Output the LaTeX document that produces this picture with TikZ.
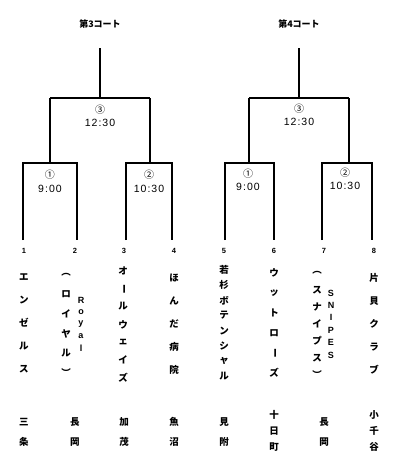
\documentclass[tikz,border=0pt]{standalone}
\usepackage{fontspec}
\setmainfont{Liberation Sans}
\newfontfamily\jp{Noto Sans CJK JP}
\newfontfamily\tm{Liberation Sans}[LetterSpace=10]
\newcommand\vchoon{\rotatebox[origin=c]{-90}{ー}}
\newcommand\vcol[5]{% name, x, y0, step, list
  \foreach \c [count=\i from 0] in {#5}
    \node[jpc] (#1-\i) at (#2,{#3+\i*#4}) {\c};}
\newcommand\lcol[5]{% name, x, y0, step, list (latin upright)
  \foreach \c [count=\i from 0] in {#5}
    \node[latc] (#1-\i) at (#2,{#3+\i*#4}) {\c};}
\tikzset{
  jpc/.style={inner sep=0pt, font=\jp\bfseries\fontsize{9.5}{10}\selectfont},
  latc/.style={inner sep=0pt, font=\bfseries\fontsize{9}{10}\selectfont},
  ttl/.style={inner sep=0pt, font=\jp\bfseries\fontsize{9}{10}\selectfont},
  circ/.style={inner sep=0pt, font=\jp\fontsize{10}{10}\selectfont},
  tim/.style={inner sep=0pt, font=\tm\fontsize{10.5}{10}\selectfont},
  num/.style={inner sep=0pt, font=\bfseries\fontsize{7.5}{8}\selectfont},
  upper/.style={line width=1.5pt},
  lower/.style={line width=1.1pt},
}
\begin{document}
\begin{tikzpicture}[x=1pt,y=-1pt]
\useasboundingbox (0,0) rectangle (400,475);
% ---------- titles
\node[ttl] (t3) at (100,24) {第3コート};
\node[ttl] (t4) at (299,24) {第4コート};
% ---------- left court
\coordinate (L0) at (100,48);
\coordinate (Lj) at (100,98);
\coordinate (Lja) at (50,98);
\coordinate (Ljb) at (150,98);
\coordinate (La) at (50,163);
\coordinate (Lb) at (150,163);
\draw[upper] (L0) -- (Lj);
\draw[upper] (Lja) -- (Ljb);
\draw[upper] (Lja) -- (La);
\draw[upper] (Ljb) -- (Lb);
\coordinate (p1) at (23,240); \coordinate (p2) at (77,240);
\coordinate (p3) at (126,240); \coordinate (p4) at (172,240);
\draw[lower] (p1) -- (23,163) -- (77,163) -- (p2);
\draw[lower] (p3) -- (126,163) -- (172,163) -- (p4);
\node[circ] (Lc3) at (100,110) {③};
\node[tim] (Lt3) at (100,123) {12:30};
\node[circ] (Lc1) at (50,175) {①};
\node[tim] (Lt1) at (50,189) {9:00};
\node[circ] (Lc2) at (149,175) {②};
\node[tim] (Lt2) at (149,189) {10:30};
% ---------- right court
\coordinate (R0) at (299,48);
\coordinate (Rj) at (299,98);
\coordinate (Rja) at (249,98);
\coordinate (Rjb) at (349,98);
\coordinate (Ra) at (249,163);
\coordinate (Rb) at (349,163);
\draw[upper] (R0) -- (Rj);
\draw[upper] (Rja) -- (Rjb);
\draw[upper] (Rja) -- (Ra);
\draw[upper] (Rjb) -- (Rb);
\coordinate (p5) at (225,240); \coordinate (p6) at (274,240);
\coordinate (p7) at (322,240); \coordinate (p8) at (372,240);
\draw[lower] (p5) -- (225,163) -- (274,163) -- (p6);
\draw[lower] (p7) -- (322,163) -- (372,163) -- (p8);
\node[circ] (Rc3) at (299,109) {③};
\node[tim] (Rt3) at (299,122) {12:30};
\node[circ] (Rc1) at (248,174) {①};
\node[tim] (Rt1) at (248,187) {9:00};
\node[circ] (Rc2) at (345,173) {②};
\node[tim] (Rt2) at (345,186) {10:30};
% ---------- numbers
\node[num] (n1) at (24,251) {1};
\node[num] (n2) at (75,251) {2};
\node[num] (n3) at (124,251) {3};
\node[num] (n4) at (174,251) {4};
\node[num] (n5) at (224,251) {5};
\node[num] (n6) at (274,251) {6};
\node[num] (n7) at (324,251) {7};
\node[num] (n8) at (374,251) {8};
% ---------- team names
\vcol{a}{24}{277}{23}{エ,ン,ゼ,ル,ス}
\vcol{b}{66}{275}{19.6}{︵,ロ,イ,ヤ,ル,︶}
\lcol{bb}{81}{300}{12}{R,o,y,a,l}
\vcol{c}{123}{271}{17.8}{オ,\vchoon,ル,ウ,ェ,イ,ズ}
\vcol{d}{174}{278}{23}{ほ,ん,だ,病,院}
\vcol{e}{224}{270}{15.2}{若,杉,ボ,テ,ン,シ,ャ,ル}
\vcol{f}{274}{273}{20}{ウ,ッ,ト,ロ,\vchoon,ズ}
\vcol{g}{317}{273}{17}{︵,ス,ナ,イ,プ,ス,︶}
\lcol{gg}{331}{293}{12.4}{S,N,I,P,E,S}
\vcol{h}{374}{278}{23}{片,貝,ク,ラ,ブ}
% ---------- places
\vcol{pa}{24}{422}{20}{三,条}
\vcol{pb}{75}{422}{20}{長,岡}
\vcol{pc}{124}{422}{20}{加,茂}
\vcol{pd}{174}{422}{20}{魚,沼}
\vcol{pe}{224}{422}{20}{見,附}
\vcol{pf}{274}{415}{16}{十,日,町}
\vcol{pg}{324}{422}{20}{長,岡}
\vcol{ph}{374}{415}{16}{小,千,谷}
\end{tikzpicture}
\end{document}
